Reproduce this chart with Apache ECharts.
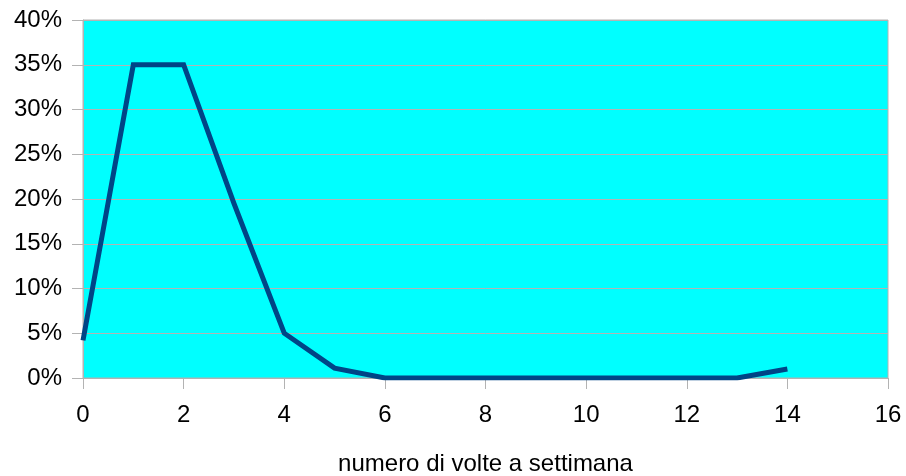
<!DOCTYPE html>
<html>
<head>
<meta charset="utf-8">
<script src="https://cdn.jsdelivr.net/npm/echarts@6/dist/echarts.min.js"></script>
<style>
html,body{margin:0;padding:0;background:#fff;}
#c{width:906px;height:476px;}
</style>
</head>
<body>
<div id="c"></div>
<script>
var xValues = [0,1,2,3,4,5,6,7,8,9,10,11,12,13,14];
var percentValues = [4.2,35,35,19.5,5,1.1,0,0,0,0,0,0,0,0,1];
var xAxisTitle = "numero di volte a settimana";

var seriesData = xValues.map(function(x,i){return [x, percentValues[i]];});
var font = "'Liberation Sans', Arial, sans-serif";
var grey = '#b3b3b3';

var chart = echarts.init(document.getElementById('c'), null, {renderer:'canvas'});
chart.setOption({
  animation:false,
  backgroundColor:'#ffffff',
  grid:{left:83, right:18, top:20, bottom:98, containLabel:false, outerBoundsMode:'none',
        show:true, backgroundColor:'#00ffff', borderColor:grey, borderWidth:1},
  xAxis:{
    type:'value', min:0, max:16, interval:2,
    name:xAxisTitle, nameLocation:'middle', nameGap:74,
    nameTextStyle:{fontFamily:font, fontSize:24, color:'#000'},
    axisLine:{show:true, lineStyle:{color:grey, width:1}},
    axisTick:{show:true, length:11, lineStyle:{color:grey}},
    axisLabel:{fontFamily:font, fontSize:24, color:'#000', margin:25},
    splitLine:{show:false}
  },
  yAxis:{
    type:'value', min:0, max:40, interval:5,
    axisLine:{show:true, lineStyle:{color:grey, width:1}},
    axisTick:{show:true, length:11, lineStyle:{color:grey}},
    axisLabel:{fontFamily:font, fontSize:24, color:'#000', margin:21, padding:[6,0,0,0], formatter:'{value}%'},
    splitLine:{show:true, lineStyle:{color:grey, width:1}}
  },
  series:[{
    type:'line', data:seriesData, showSymbol:false, symbol:'none',
    lineStyle:{color:'#004586', width:5, join:'miter', cap:'butt'},
    clip:true
  }]
});
</script>
</body>
</html>
